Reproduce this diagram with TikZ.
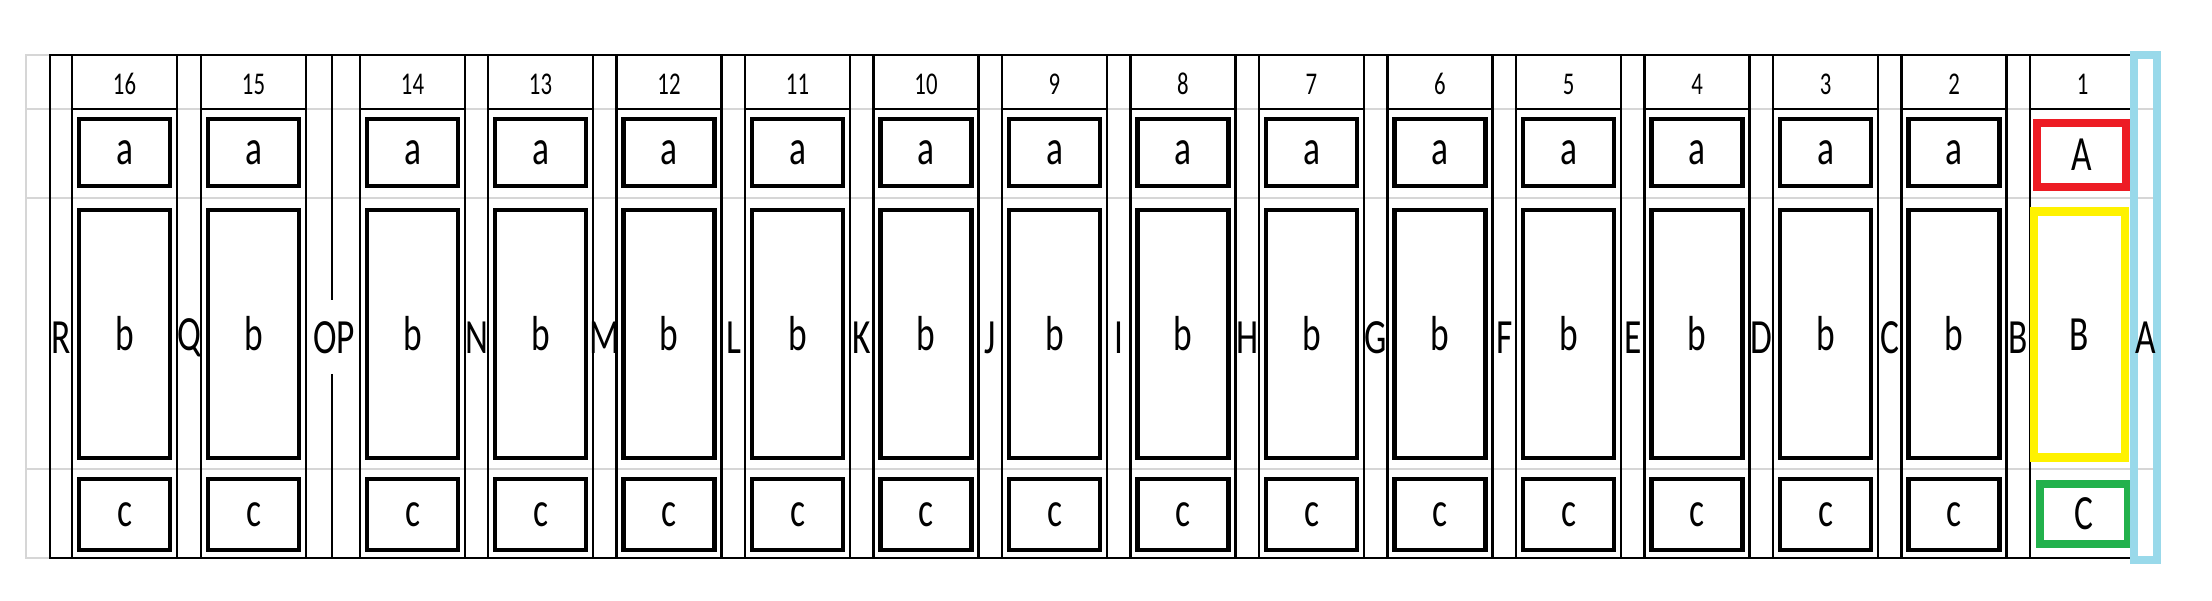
\documentclass[tikz,border=0pt]{standalone}
\usepackage{graphicx}
\usepackage{fontspec}
\setmainfont{Carlito}
\usetikzlibrary{positioning}
\definecolor{paintred}{RGB}{237,28,36}
\definecolor{paintyellow}{RGB}{255,242,0}
\definecolor{paintgreen}{RGB}{34,177,76}
\definecolor{paintblue}{RGB}{153,217,234}
\definecolor{gridgray}{RGB}{214,214,214}
\newcommand{\condtext}[1]{\scalebox{0.72}[1]{#1}}

\begin{document}
\begin{tikzpicture}[x=0.1mm,y=-0.1mm,
  slot/.style={line width=0.7pt},
  part/.style={draw,line width=1.25pt,inner sep=0pt,font=\fontsize{14}{14}\selectfont},
  partA/.style={part,minimum width=9.1mm,minimum height=6.7mm},
  partB/.style={part,minimum width=9.1mm,minimum height=24.8mm},
  partC/.style={part,minimum width=9.1mm,minimum height=7.1mm},
  gaplbl/.style={font=\fontsize{14}{14}\selectfont,inner sep=1pt},
  numlbl/.style={font=\fontsize{9}{9}\selectfont,inner sep=0pt}]
\useasboundingbox (0,0) rectangle (2212,601);
\foreach \y in {109,198,469}
  \draw[gridgray,slot] (26,\y) -- (2153,\y);
\draw[gridgray,slot] (50,55) -- (26,55) -- (26,558) -- (50,558);
\draw[slot] (2130,55) -- (50,55) -- (50,558) -- (2130,558);
\foreach \n/\x in {16/72,15/201,14/360,13/488,12/616.5,11/745,10/873.5,9/1002,8/1130.5,7/1259,6/1387.5,5/1516,4/1644.5,3/1773,2/1901.5,1/2030}{
  \draw[slot] (\x,55) rectangle ++(105,503);
  \draw[slot] (\x,109) -- ++(105,0);
  \node[numlbl] (num\n) at (\x+52.5,84) {\condtext{\n}};
}
\foreach \n/\x in {16/72,15/201,14/360,13/488,12/616.5,11/745,10/873.5,9/1002,8/1130.5,7/1259,6/1387.5,5/1516,4/1644.5,3/1773,2/1901.5}{
  \node[partA] (a\n) at (\x+52.5,152.5) {\condtext{a}};
  \node[partB] (b\n) at (\x+52.5,334) {\condtext{b}};
  \node[partC] (c\n) at (\x+52.5,514.5) {\condtext{c}};
}
\node[part,paintred,line width=2.2pt,minimum width=8.9mm,minimum height=6.4mm,text=black] (a1) at (2081.5,155) {\condtext{A}};
\node[part,paintyellow,line width=2.3pt,minimum width=9.1mm,minimum height=24.6mm,text=black] (b1) at (2079.5,334.5) {\condtext{B}};
\node[part,paintgreen,line width=2.3pt,minimum width=8.8mm,minimum height=6mm,text=black] (c1) at (2084,514) {\condtext{C}};
\node[gaplbl] (gapR) at (61,338) {\condtext{R}};
\node[gaplbl] (gapQ) at (189,338) {\condtext{Q}};
\node[gaplbl] (gapOP) at (334,338) {\condtext{OP}};
\draw[slot] (332,55) -- (332,300);
\draw[slot] (332,374) -- (332,558);
\foreach \l/\x in {N/360,M/488,L/616.5,K/745,J/873.5,I/1002,H/1130.5,G/1259,F/1387.5,E/1516,D/1644.5,C/1773,B/1901.5}
  \node[gaplbl] (gap\l) at (\x+117,338) {\condtext{\l}};
\draw[paintblue,line width=2.3pt] (2134,55) rectangle (2157,560);
\node[gaplbl] (gapA) at (2146,338) {\condtext{A}};
\end{tikzpicture}
\end{document}
